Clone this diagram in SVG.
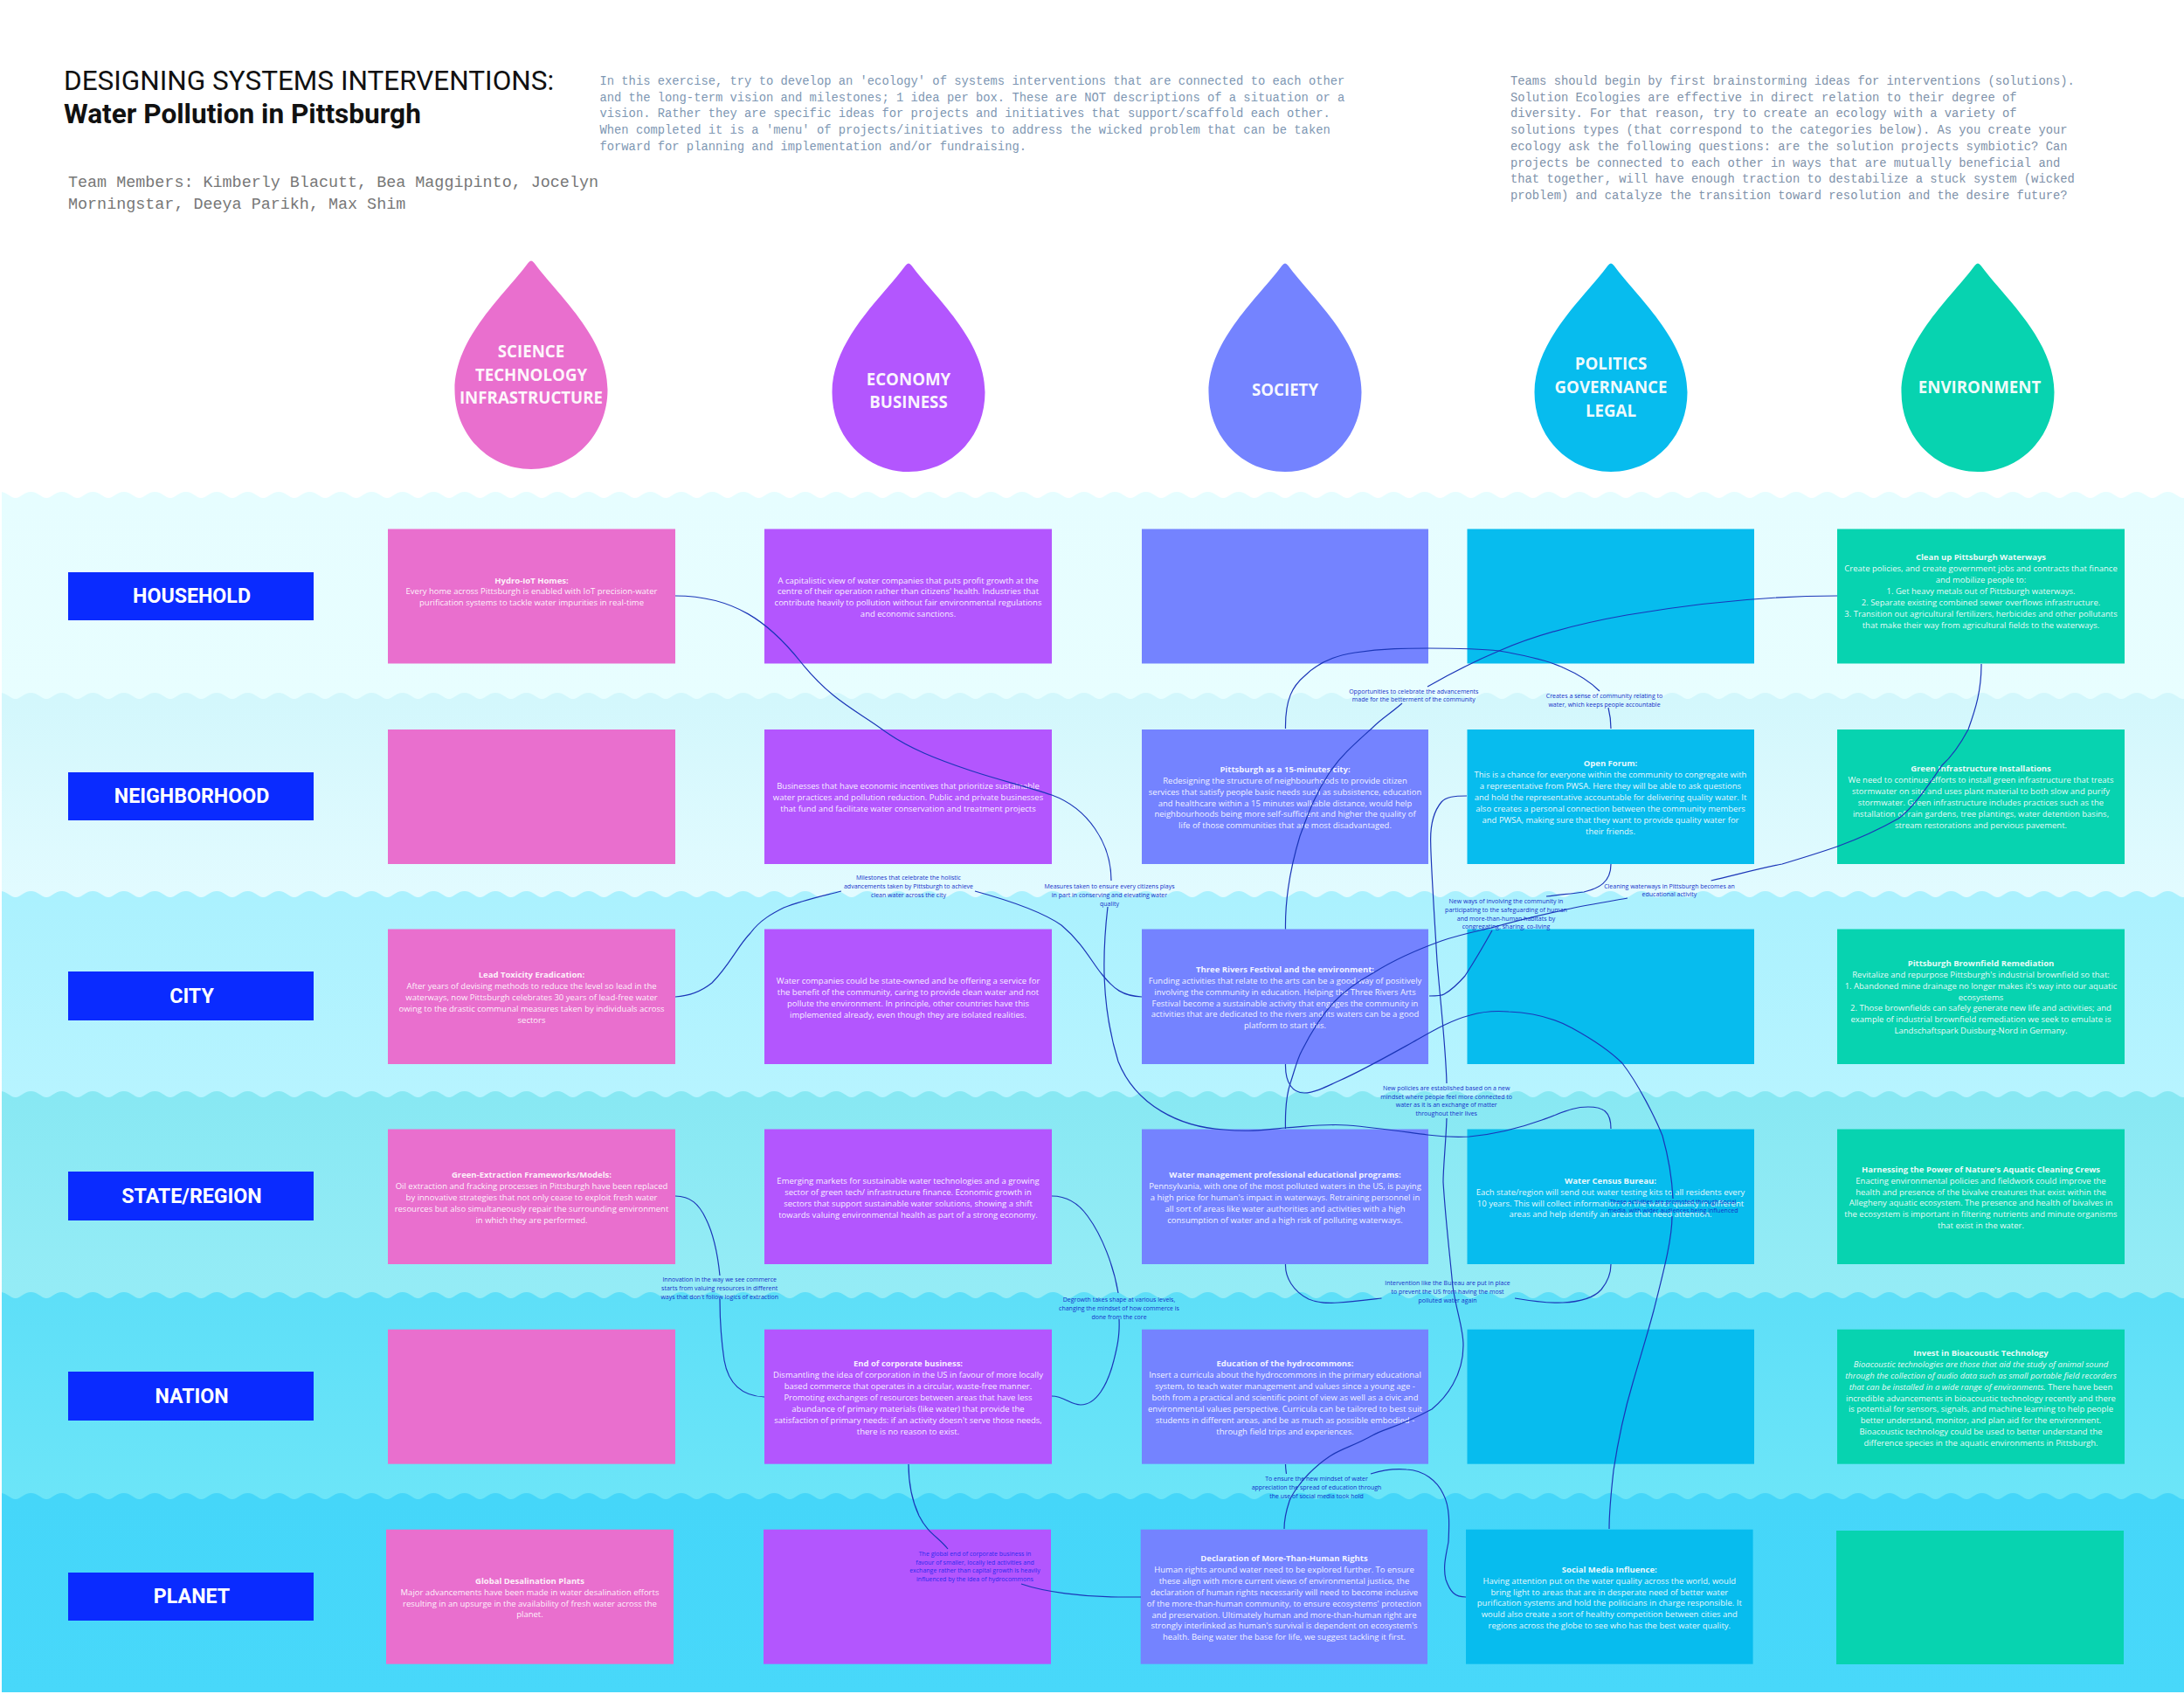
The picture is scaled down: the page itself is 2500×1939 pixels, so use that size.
<svg xmlns="http://www.w3.org/2000/svg" width="2500" height="1939" viewBox="0 0 2500 1939">
<style>
.t{font-family:"Open Sans","Liberation Sans",sans-serif;font-size:9.5px;fill:#fff;fill-opacity:.93;text-anchor:middle}
.b{font-weight:700}
.i{font-style:italic}
.l{font-family:"Open Sans","Liberation Sans",sans-serif;font-size:7px;fill:#1530c9;text-anchor:middle}
.d{font-family:"Open Sans","Liberation Sans",sans-serif;font-size:18.7px;font-weight:700;fill:#fff;fill-opacity:.95;text-anchor:middle}
.r{font-family:Roboto,"Liberation Sans",sans-serif;font-size:23.2px;font-weight:700;fill:#fff;text-anchor:middle}
.m{font-family:"Liberation Mono",monospace;font-size:13.8px}
.c{fill:none;stroke:#1b36b8;stroke-width:1.2}
.rl{fill:#0a2bff}
.p{fill:#e96fce}.u{fill:#b356fe}.s{fill:#7483ff}.g{fill:#07bcee}.e{fill:#07d3b0}
</style>
<defs>
<path id="drop" d="M-3.5 3Q0 -2 3.5 3C29 38 87.5 88 87.5 148C87.5 200 48 239 0 239C-48 239 -87.5 200 -87.5 148C-87.5 88 -29 38 -3.5 3Z"/>
<pattern id="w1" patternUnits="userSpaceOnUse" x="0" y="563" width="35.45" height="8"><path fill="#e6fdff" d="M0 0C8 0 12 7 17.72 7C23.4 7 27.4 0 35.45 0V8H0Z"/></pattern>
<pattern id="w2" patternUnits="userSpaceOnUse" x="0" y="793" width="35.45" height="8"><path fill="#d3f7fc" d="M0 0C8 0 12 7 17.72 7C23.4 7 27.4 0 35.45 0V8H0Z"/></pattern>
<pattern id="w3" patternUnits="userSpaceOnUse" x="0" y="1020" width="35.45" height="8"><path fill="#abf1fe" d="M0 0C8 0 12 7 17.72 7C23.4 7 27.4 0 35.45 0V8H0Z"/></pattern>
<pattern id="w4" patternUnits="userSpaceOnUse" x="0" y="1249" width="35.45" height="8"><path fill="#88e8f3" d="M0 0C8 0 12 7 17.72 7C23.4 7 27.4 0 35.45 0V8H0Z"/></pattern>
<pattern id="w5" patternUnits="userSpaceOnUse" x="0" y="1479" width="35.45" height="8"><path fill="#5edff8" d="M0 0C8 0 12 7 17.72 7C23.4 7 27.4 0 35.45 0V8H0Z"/></pattern>
<pattern id="w6" patternUnits="userSpaceOnUse" x="0" y="1709" width="35.45" height="8"><path fill="#45d6f9" d="M0 0C8 0 12 7 17.72 7C23.4 7 27.4 0 35.45 0V8H0Z"/></pattern>
<linearGradient id="b1" x1="0" y1="0" x2="0" y2="1"><stop offset="0" stop-color="#e6fdff"/><stop offset="1" stop-color="#e8feff"/></linearGradient>
<linearGradient id="b2" x1="0" y1="0" x2="0" y2="1"><stop offset="0" stop-color="#d3f7fc"/><stop offset="1" stop-color="#e2fbff"/></linearGradient>
<linearGradient id="b3" x1="0" y1="0" x2="0" y2="1"><stop offset="0" stop-color="#abf1fe"/><stop offset="1" stop-color="#b7f4ff"/></linearGradient>
<linearGradient id="b4" x1="0" y1="0" x2="0" y2="1"><stop offset="0" stop-color="#88e8f3"/><stop offset="1" stop-color="#95ecf6"/></linearGradient>
<linearGradient id="b5" x1="0" y1="0" x2="0" y2="1"><stop offset="0" stop-color="#5edff8"/><stop offset="1" stop-color="#6ce5f8"/></linearGradient>
<linearGradient id="b6" x1="0" y1="0" x2="0" y2="1"><stop offset="0" stop-color="#45d6f9"/><stop offset="1" stop-color="#48d8fa"/></linearGradient>
</defs>
<rect width="2500" height="1939" fill="#fff"/>
<g id="bands">
<rect x="2" y="563" width="2498" height="8" fill="url(#w1)"/><rect x="2" y="571" width="2498" height="230" fill="url(#b1)"/>
<rect x="2" y="793" width="2498" height="8" fill="url(#w2)"/><rect x="2" y="801" width="2498" height="227" fill="url(#b2)"/>
<rect x="2" y="1020" width="2498" height="8" fill="url(#w3)"/><rect x="2" y="1028" width="2498" height="229" fill="url(#b3)"/>
<rect x="2" y="1249" width="2498" height="8" fill="url(#w4)"/><rect x="2" y="1257" width="2498" height="230" fill="url(#b4)"/>
<rect x="2" y="1479" width="2498" height="8" fill="url(#w5)"/><rect x="2" y="1487" width="2498" height="230" fill="url(#b5)"/>
<rect x="2" y="1709" width="2498" height="8" fill="url(#w6)"/><rect x="2" y="1717" width="2498" height="220" fill="url(#b6)"/>
</g>
<g id="header">
<text x="73" y="102.5" font-family="Roboto,'Liberation Sans',sans-serif" font-size="31.5" fill="#111">DESIGNING SYSTEMS INTERVENTIONS:</text>
<text x="73" y="141" font-family="Roboto,'Liberation Sans',sans-serif" font-size="31.6" font-weight="700" fill="#111">Water Pollution in Pittsburgh</text>
<text font-family="'Liberation Mono',monospace" font-size="18.4" fill="#777"><tspan x="78" y="214">Team Members: Kimberly Blacutt, Bea Maggipinto, Jocelyn</tspan><tspan x="78" y="239">Morningstar, Deeya Parikh, Max Shim</tspan></text>
<text class="m" fill="#7e97b3"><tspan x="686.5" y="97">In this exercise, try to develop an 'ecology' of systems interventions that are connected to each other</tspan><tspan x="686.5" y="115.7">and the long-term vision and milestones; 1 idea per box. These are NOT descriptions of a situation or a</tspan><tspan x="686.5" y="134.4">vision. Rather they are specific ideas for projects and initiatives that support/scaffold each other.</tspan><tspan x="686.5" y="153.1">When completed it is a 'menu' of projects/initiatives to address the wicked problem that can be taken</tspan><tspan x="686.5" y="171.8">forward for planning and implementation and/or fundraising.</tspan></text>
<text class="m" fill="#8092aa"><tspan x="1729" y="97">Teams should begin by first brainstorming ideas for interventions (solutions).</tspan><tspan x="1729" y="115.7">Solution Ecologies are effective in direct relation to their degree of</tspan><tspan x="1729" y="134.4">diversity. For that reason, try to create an ecology with a variety of</tspan><tspan x="1729" y="153.1">solutions types (that correspond to the categories below). As you create your</tspan><tspan x="1729" y="171.8">ecology ask the following questions: are the solution projects symbiotic? Can</tspan><tspan x="1729" y="190.5">projects be connected to each other in ways that are mutually beneficial and</tspan><tspan x="1729" y="209.2">that together, will have enough traction to destabilize a stuck system (wicked</tspan><tspan x="1729" y="227.9">problem) and catalyze the transition toward resolution and the desire future?</tspan></text>
</g>
<g id="drop-science"><use href="#drop" x="608" y="298" class="p"/><text class="d"><tspan x="608" y="409">SCIENCE</tspan><tspan x="608" y="435.6">TECHNOLOGY</tspan><tspan x="608" y="462.2">INFRASTRUCTURE</tspan></text></g>
<g id="drop-economy"><use href="#drop" x="1040" y="301" class="u"/><text class="d"><tspan x="1040" y="441">ECONOMY</tspan><tspan x="1040" y="467.4">BUSINESS</tspan></text></g>
<g id="drop-society"><use href="#drop" x="1471" y="301" class="s"/><text class="d" x="1471" y="453">SOCIETY</text></g>
<g id="drop-politics"><use href="#drop" x="1844" y="301" class="g"/><text class="d"><tspan x="1844" y="423">POLITICS</tspan><tspan x="1844" y="450">GOVERNANCE</tspan><tspan x="1844" y="476.7">LEGAL</tspan></text></g>
<g id="drop-environment"><use href="#drop" x="2264" y="301" class="e"/><text class="d" x="2266" y="450">ENVIRONMENT</text></g>
<g id="row-household"><rect class="rl" x="78" y="655" width="281" height="55"/><text class="r" x="219.5" y="689.5">HOUSEHOLD</text></g>
<g id="row-neighborhood"><rect class="rl" x="78" y="884" width="281" height="55"/><text class="r" x="219.5" y="918.5">NEIGHBORHOOD</text></g>
<g id="row-city"><rect class="rl" x="78" y="1112" width="281" height="56"/><text class="r" x="219.5" y="1147.5">CITY</text></g>
<g id="row-state"><rect class="rl" x="78" y="1341" width="281" height="56"/><text class="r" x="219.5" y="1376.5">STATE/REGION</text></g>
<g id="row-nation"><rect class="rl" x="78" y="1570" width="281" height="56"/><text class="r" x="219.5" y="1605.5">NATION</text></g>
<g id="row-planet"><rect class="rl" x="78" y="1800" width="281" height="55"/><text class="r" x="219.5" y="1834.5">PLANET</text></g>

<g id="n-hydro"><rect class="p" x="444" y="605.5" width="329" height="154"/><text class="t" y="667.5"><tspan x="608.5" class="b">Hydro-IoT Homes:</tspan><tspan x="608.5" dy="12.9">Every home across Pittsburgh is enabled with IoT precision-water</tspan><tspan x="608.5" dy="12.9">purification systems to tackle water impurities in real-time</tspan></text></g>
<g id="n-capital"><rect class="u" x="875" y="605.5" width="329" height="154"/><text class="t" y="667.5"><tspan x="1039.5">A capitalistic view of water companies that puts profit growth at the</tspan><tspan x="1039.5" dy="12.9">centre of their operation rather than citizens' health. Industries that</tspan><tspan x="1039.5" dy="12.9">contribute heavily to pollution without fair environmental regulations</tspan><tspan x="1039.5" dy="12.9">and economic sanctions.</tspan></text></g>
<g id="n-society1"><rect class="s" x="1307" y="605.5" width="328" height="154"/></g>
<g id="n-politics1"><rect class="g" x="1679.5" y="605.5" width="328.5" height="154"/></g>
<g id="n-cleanup"><rect class="e" x="2103" y="605.5" width="329" height="154"/><text class="t" y="641.3"><tspan x="2267.5" class="b">Clean up Pittsburgh Waterways</tspan><tspan x="2267.5" dy="12.9">Create policies, and create government jobs and contracts that finance</tspan><tspan x="2267.5" dy="12.9">and mobilize people to:</tspan><tspan x="2267.5" dy="12.9">1. Get heavy metals out of Pittsburgh waterways.</tspan><tspan x="2267.5" dy="12.9">2. Separate existing combined sewer overflows infrastructure.</tspan><tspan x="2267.5" dy="12.9">3. Transition out agricultural fertilizers, herbicides and other pollutants</tspan><tspan x="2267.5" dy="12.9">that make their way from agricultural fields to the waterways.</tspan></text></g>

<g id="n-sci2"><rect class="p" x="444" y="835" width="329" height="154"/></g>
<g id="n-business"><rect class="u" x="875" y="835" width="329" height="154"/><text class="t" y="903.4"><tspan x="1039.5">Businesses that have economic incentives that prioritize sustainable</tspan><tspan x="1039.5" dy="12.9">water practices and pollution reduction. Public and private businesses</tspan><tspan x="1039.5" dy="12.9">that fund and facilitate water conservation and treatment projects</tspan></text></g>
<g id="n-15min"><rect class="s" x="1307" y="835" width="328" height="154"/><text class="t" y="883.8"><tspan x="1471" class="b">Pittsburgh as a 15-minutes city:</tspan><tspan x="1471" dy="12.9">Redesigning the structure of neighbourhoods to provide citizen</tspan><tspan x="1471" dy="12.9">services that satisfy people basic needs such as subsistence, education</tspan><tspan x="1471" dy="12.9">and healthcare within a 15 minutes walkable distance, would help</tspan><tspan x="1471" dy="12.9">neighbourhoods being more self-sufficient and higher the quality of</tspan><tspan x="1471" dy="12.9">life of those communities that are most disadvantaged.</tspan></text></g>
<g id="n-forum"><rect class="g" x="1679.5" y="835" width="328.5" height="154"/><text class="t" y="877.3"><tspan x="1843.5" class="b">Open Forum:</tspan><tspan x="1843.5" dy="12.9">This is a chance for everyone within the community to congregate with</tspan><tspan x="1843.5" dy="12.9">a representative from PWSA. Here they will be able to ask questions</tspan><tspan x="1843.5" dy="12.9">and hold the representative accountable for delivering quality water. It</tspan><tspan x="1843.5" dy="12.9">also creates a personal connection between the community members</tspan><tspan x="1843.5" dy="12.9">and PWSA, making sure that they want to provide quality water for</tspan><tspan x="1843.5" dy="12.9">their friends.</tspan></text></g>
<g id="n-greeninfra"><rect class="e" x="2103" y="835" width="329" height="154"/><text class="t" y="883.4"><tspan x="2267.5" class="b">Green Infrastructure Installations</tspan><tspan x="2267.5" dy="12.9">We need to continue efforts to install green infrastructure that treats</tspan><tspan x="2267.5" dy="12.9">stormwater on site and uses plant material to both slow and purify</tspan><tspan x="2267.5" dy="12.9">stormwater.  Green infrastructure includes practices such as the</tspan><tspan x="2267.5" dy="12.9">installation of rain gardens, tree plantings, water detention basins,</tspan><tspan x="2267.5" dy="12.9">stream restorations and pervious pavement.</tspan></text></g>

<g id="n-lead"><rect class="p" x="444" y="1063.5" width="329" height="154.5"/><text class="t" y="1119.3"><tspan x="608.5" class="b">Lead Toxicity Eradication:</tspan><tspan x="608.5" dy="12.9">After years of devising methods to reduce the level so lead in the</tspan><tspan x="608.5" dy="12.9">waterways, now Pittsburgh celebrates 30 years of lead-free water</tspan><tspan x="608.5" dy="12.9">owing to the drastic communal measures taken by individuals across</tspan><tspan x="608.5" dy="12.9">sectors</tspan></text></g>
<g id="n-companies"><rect class="u" x="875" y="1063.5" width="329" height="154.5"/><text class="t" y="1125.8"><tspan x="1039.5">Water companies could be state-owned and be offering a service for</tspan><tspan x="1039.5" dy="12.9">the benefit of the community, caring to provide clean water and not</tspan><tspan x="1039.5" dy="12.9">pollute the environment. In principle, other countries have this</tspan><tspan x="1039.5" dy="12.9">implemented already, even though they are isolated realities.</tspan></text></g>
<g id="n-festival"><rect class="s" x="1307" y="1063.5" width="328" height="154.5"/><text class="t" y="1112.8"><tspan x="1471" class="b">Three Rivers Festival and the environment:</tspan><tspan x="1471" dy="12.9">Funding activities that relate to the arts can be a good way of positively</tspan><tspan x="1471" dy="12.9">involving the community in education. Helping the Three Rivers Arts</tspan><tspan x="1471" dy="12.9">Festival become a sustainable activity that engages the community in</tspan><tspan x="1471" dy="12.9">activities that are dedicated to the rivers and its waters can be a good</tspan><tspan x="1471" dy="12.9">platform to start this.</tspan></text></g>
<g id="n-politics3"><rect class="g" x="1679.5" y="1063.5" width="328.5" height="154.5"/></g>
<g id="n-brownfield"><rect class="e" x="2103" y="1063.5" width="329" height="154.5"/><text class="t" y="1105.8"><tspan x="2267.5" class="b">Pittsburgh Brownfield Remediation</tspan><tspan x="2267.5" dy="12.9">Revitalize and repurpose Pittsburgh's industrial brownfield so that:</tspan><tspan x="2267.5" dy="12.9">1. Abandoned mine drainage no longer makes it's way into our aquatic</tspan><tspan x="2267.5" dy="12.9">ecosystems</tspan><tspan x="2267.5" dy="12.9">2. Those brownfields can safely generate new life and activities; and</tspan><tspan x="2267.5" dy="12.9">example of industrial brownfield remediation we seek to emulate is</tspan><tspan x="2267.5" dy="12.9">Landschaftspark Duisburg-Nord in Germany.</tspan></text></g>

<g id="n-extraction"><rect class="p" x="444" y="1292.5" width="329" height="154.5"/><text class="t" y="1348.3"><tspan x="608.5" class="b">Green-Extraction Frameworks/Models:</tspan><tspan x="608.5" dy="12.9">Oil extraction and fracking processes in Pittsburgh have been replaced</tspan><tspan x="608.5" dy="12.9">by innovative strategies that not only cease to exploit fresh water</tspan><tspan x="608.5" dy="12.9">resources but also simultaneously repair the surrounding environment</tspan><tspan x="608.5" dy="12.9">in which they are performed.</tspan></text></g>
<g id="n-emerging"><rect class="u" x="875" y="1292.5" width="329" height="154.5"/><text class="t" y="1355"><tspan x="1039.5">Emerging markets for sustainable water technologies and a growing</tspan><tspan x="1039.5" dy="12.9">sector of green tech/ infrastructure finance. Economic growth in</tspan><tspan x="1039.5" dy="12.9">sectors that support sustainable water solutions, showing a shift</tspan><tspan x="1039.5" dy="12.9">towards valuing environmental health as part of a strong economy.</tspan></text></g>
<g id="n-professional"><rect class="s" x="1307" y="1292.5" width="328" height="154.5"/><text class="t" y="1348.3"><tspan x="1471" class="b">Water management professional educational programs:</tspan><tspan x="1471" dy="12.9">Pennsylvania, with one of the most polluted waters in the US, is paying</tspan><tspan x="1471" dy="12.9">a high price for human's impact in waterways. Retraining personnel in</tspan><tspan x="1471" dy="12.9">all sort of areas like water authorities and activities with a high</tspan><tspan x="1471" dy="12.9">consumption of water and a high risk of polluting waterways.</tspan></text></g>
<g id="n-census"><rect class="g" x="1679.5" y="1292.5" width="328.5" height="154.5"/><text class="t" y="1354.7"><tspan x="1843.5" class="b">Water Census Bureau:</tspan><tspan x="1843.5" dy="12.9">Each state/region will send out water testing kits to all residents every</tspan><tspan x="1843.5" dy="12.9">10 years. This will collect information on the water quality in different</tspan><tspan x="1843.5" dy="12.9">areas and help identify an areas that need attention.</tspan></text></g>
<g id="n-bivalve"><rect class="e" x="2103" y="1292.5" width="329" height="154.5"/><text class="t" y="1341.7"><tspan x="2267.5" class="b">Harnessing the Power of Nature's Aquatic Cleaning Crews</tspan><tspan x="2267.5" dy="12.9">Enacting environmental policies and fieldwork could improve the</tspan><tspan x="2267.5" dy="12.9">health and presence of the bivalve creatures that exist within the</tspan><tspan x="2267.5" dy="12.9">Allegheny aquatic ecosystem. The presence and health of bivalves in</tspan><tspan x="2267.5" dy="12.9">the ecosystem is important in filtering nutrients and minute organisms</tspan><tspan x="2267.5" dy="12.9">that exist in the water.</tspan></text></g>

<g id="n-sci5"><rect class="p" x="444" y="1521.7" width="329" height="154"/></g>
<g id="n-endcorp"><rect class="u" x="875" y="1521.7" width="329" height="154"/><text class="t" y="1564.3"><tspan x="1039.5" class="b">End of corporate business:</tspan><tspan x="1039.5" dy="12.9">Dismantling the idea of corporation in the US in favour of more locally</tspan><tspan x="1039.5" dy="12.9">based commerce that operates in a circular, waste-free manner.</tspan><tspan x="1039.5" dy="12.9">Promoting exchanges of resources between areas that have less</tspan><tspan x="1039.5" dy="12.9">abundance of primary materials (like water) that provide the</tspan><tspan x="1039.5" dy="12.9">satisfaction of primary needs: if an activity doesn't serve those needs,</tspan><tspan x="1039.5" dy="12.9">there is no reason to exist.</tspan></text></g>
<g id="n-education"><rect class="s" x="1307" y="1521.7" width="328" height="154"/><text class="t" y="1564.3"><tspan x="1471" class="b">Education of the hydrocommons:</tspan><tspan x="1471" dy="12.9">Insert a curricula about the hydrocommons in the primary educational</tspan><tspan x="1471" dy="12.9">system, to teach water management and values since a young age -</tspan><tspan x="1471" dy="12.9">both from a practical and scientific point of view as well as a civic and</tspan><tspan x="1471" dy="12.9">environmental values perspective. Curricula can be tailored to best suit</tspan><tspan x="1471" dy="12.9">students in different areas, and be as much as possible embodied -</tspan><tspan x="1471" dy="12.9">through field trips and experiences.</tspan></text></g>
<g id="n-politics5"><rect class="g" x="1679.5" y="1521.7" width="328.5" height="154"/></g>
<g id="n-bioacoustic"><rect class="e" x="2103" y="1521.7" width="329" height="154"/><text class="t" y="1551.9"><tspan x="2267.5" class="b">Invest in Bioacoustic Technology</tspan><tspan x="2267.5" dy="12.9" class="i">Bioacoustic technologies are those that aid the study of animal sound</tspan><tspan x="2267.5" dy="12.9" class="i">through the collection of audio data such as small portable field recorders</tspan><tspan x="2267.5" dy="12.9"><tspan class="i">that can be installed in a wide range of environments.</tspan> There have been</tspan><tspan x="2267.5" dy="12.9">incredible advancements in bioacoustic technology recently and there</tspan><tspan x="2267.5" dy="12.9">is potential for sensors, signals, and machine learning to help people</tspan><tspan x="2267.5" dy="12.9">better understand, monitor, and plan aid for the environment.</tspan><tspan x="2267.5" dy="12.9">Bioacoustic technology could be used to better understand the</tspan><tspan x="2267.5" dy="12.9">difference species in the aquatic environments in Pittsburgh.</tspan></text></g>

<g id="n-desal"><rect class="p" x="442" y="1750.7" width="329" height="154"/><text class="t" y="1812.7"><tspan x="606.5" class="b">Global Desalination Plants</tspan><tspan x="606.5" dy="12.9">Major advancements have been made in water desalination efforts</tspan><tspan x="606.5" dy="12.9">resulting in an upsurge in the availability of fresh water across the</tspan><tspan x="606.5" dy="12.9">planet.</tspan></text></g>
<g id="n-econ6"><rect class="u" x="874" y="1750.7" width="329" height="154"/></g>
<g id="n-rights"><rect class="s" x="1305.7" y="1750.7" width="328.3" height="154"/><text class="t" y="1787"><tspan x="1470" class="b">Declaration of More-Than-Human Rights</tspan><tspan x="1470" dy="12.9">Human rights around water need to be explored further. To ensure</tspan><tspan x="1470" dy="12.9">these align with more current views of environmental justice, the</tspan><tspan x="1470" dy="12.9">declaration of human rights necessarily will need to become inclusive</tspan><tspan x="1470" dy="12.9">of the more-than-human community, to ensure ecosystems' protection</tspan><tspan x="1470" dy="12.9">and preservation. Ultimately human and more-than-human right are</tspan><tspan x="1470" dy="12.9">strongly interlinked as human's survival is dependent on ecosystem's</tspan><tspan x="1470" dy="12.9">health. Being water the base for life, we suggest tackling it first.</tspan></text></g>
<g id="n-social"><rect class="g" x="1678" y="1750.7" width="328.6" height="154"/><text class="t" y="1799.7"><tspan x="1842.3" class="b">Social Media Influence:</tspan><tspan x="1842.3" dy="12.9">Having attention put on the water quality across the world, would</tspan><tspan x="1842.3" dy="12.9">bring light to areas that are in desperate need of better water</tspan><tspan x="1842.3" dy="12.9">purification systems and hold the politicians in charge responsible. It</tspan><tspan x="1842.3" dy="12.9">would also create a sort of healthy competition between cities and</tspan><tspan x="1842.3" dy="12.9">regions across the globe to see who has the best water quality.</tspan></text></g>
<g id="n-env6"><rect class="e" x="2102" y="1752" width="329" height="153"/></g>

<g id="connectors">
<path class="c" d="M773 682C840 682 880 712 916 757C952 802 980 813 1010 835C1040 857 1075 870 1111 882C1147 894 1175 900 1204 910C1245 925 1272 965 1272 1008"/>
<path class="c" d="M1268 1038C1262 1090 1260 1150 1280 1215C1300 1265 1350 1290 1401 1293C1430 1296 1450 1293 1471 1291C1500 1289 1520 1286 1542 1288C1580 1291 1610 1296 1634 1299C1650 1301 1665 1302 1682 1301C1715 1298 1740 1291 1765 1282C1790 1273 1800 1267 1818 1267C1835 1267 1844 1272 1844 1292"/>
<path class="c" d="M1116 1020C1160 1032 1195 1045 1215 1059C1240 1080 1250 1102 1262 1116C1275 1132 1285 1140 1307 1141"/>
<path class="c" d="M773 1141C790 1140 805 1133 815 1125C835 1105 845 1082 859 1068C870 1053 885 1045 897 1039C920 1030 940 1026 963 1020"/>
<path class="c" d="M2103 682C2060 682 1980 684 1862 704C1800 715 1750 730 1716 745C1685 758 1655 774 1634 786"/>
<path class="c" d="M1605 805C1590 818 1582 822 1571 833C1550 852 1535 865 1522 884C1505 910 1498 930 1488 957C1478 990 1471 1030 1471.5 1063.5"/>
<path class="c" d="M1471.5 834C1471 800 1480 785 1493 774C1510 757 1530 750 1551 747C1585 742 1610 742 1634 742C1665 742 1690 742 1716 745C1745 750 1770 755 1789 764C1805 771 1820 780 1831 791"/>
<path class="c" d="M1841 810C1843 818 1844 825 1844 834"/>
<path class="c" d="M1679 911C1665 911 1655 912 1650 918C1640 930 1637 945 1637.7 965C1638 990 1642 1050 1645 1100C1650 1160 1655 1200 1656 1240"/>
<path class="c" d="M1656 1280C1655 1310 1652 1335 1652 1353C1655 1400 1660 1440 1663 1473C1668 1505 1675 1520 1675 1540C1675 1575 1655 1600 1639 1613C1600 1634 1585 1635 1571 1643C1550 1655 1535 1658 1522 1667C1510 1675 1505 1680 1498 1687C1488 1697 1478 1712 1476 1718C1472 1730 1470 1740 1470 1750"/>
<path class="c" d="M1471.5 1218C1471 1240 1480 1251 1493 1251C1505 1251 1520 1243 1533 1237C1560 1225 1590 1208 1617 1193C1640 1180 1660 1168 1683 1162C1700 1157 1715 1157 1727 1158C1755 1159 1780 1166 1800 1177C1820 1188 1840 1200 1857 1217C1875 1240 1895 1280 1903 1300C1910 1325 1914 1350 1915 1372"/>
<path class="c" d="M1914 1392C1914 1420 1903 1460 1893 1500C1885 1530 1877 1555 1869 1583C1858 1620 1852 1650 1847 1683C1844 1710 1842 1730 1842 1750"/>
<path class="c" d="M1471.5 1292C1471 1270 1472 1255 1477 1240C1482 1225 1485 1212 1490 1203C1500 1183 1512 1163 1527 1147C1540 1133 1555 1123 1573 1113C1600 1096 1625 1086 1650 1077C1670 1070 1690 1066 1707 1062C1735 1054 1765 1047 1793 1041C1815 1036 1840 1032 1863 1028"/>
<path class="c" d="M2268 760C2268 790 2262 810 2253 835C2245 850 2235 865 2223 876C2208 898 2190 925 2173 937C2150 950 2125 961 2103 969C2080 977 2060 983 2040 989C2010 995 1985 1002 1958.6 1008"/>
<path class="c" d="M1636 1140C1645 1140 1650 1140 1653 1138C1662 1133 1670 1125 1677 1117C1688 1100 1698 1083 1708 1065"/>
<path class="c" d="M1770 1026C1785 1024 1800 1023 1813 1021C1830 1017 1844 1010 1844 989"/>
<path class="c" d="M1471.5 1447C1471 1462 1480 1478 1498 1487C1510 1492 1520 1492 1532 1491C1550 1490 1565 1488 1581.5 1486"/>
<path class="c" d="M1734 1486C1752 1489 1770 1492 1789 1491C1810 1490 1825 1485 1833 1476C1842 1465 1844 1455 1844 1447"/>
<path class="c" d="M773 1369C790 1369 800 1378 808 1395C818 1415 822 1440 824 1460"/>
<path class="c" d="M824 1487C824 1510 825 1530 829 1557C834 1585 850 1598 875 1599"/>
<path class="c" d="M1204 1369C1222 1369 1235 1378 1245 1392C1262 1415 1275 1450 1280 1480"/>
<path class="c" d="M1281 1510C1282 1530 1278 1545 1275 1557C1268 1585 1255 1608 1237 1608C1225 1608 1218 1598 1204 1598"/>
<path class="c" d="M1040 1676C1040 1700 1045 1720 1052 1735C1062 1755 1075 1760 1085 1773"/>
<path class="c" d="M1169 1813C1195 1822 1240 1828 1280 1828L1306 1828"/>
<path class="c" d="M1471.5 1676C1471.5 1680 1472 1683 1472.5 1687"/>
<path class="c" d="M1569 1687C1585 1682 1600 1681 1610 1682C1630 1683 1645 1695 1652 1710C1660 1725 1659 1745 1658 1765C1654 1785 1652 1795 1655 1808C1660 1822 1665 1828 1678 1828"/>
<text class="l"><tspan x="1040" y="1007">Milestones that celebrate the holistic</tspan><tspan x="1040" dy="9.8">advancements taken by Pittsburgh to achieve</tspan><tspan x="1040" dy="9.8">clean water across the city</tspan></text>
<text class="l"><tspan x="1270" y="1017">Measures taken to ensure every citizens plays</tspan><tspan x="1270" dy="9.8">in part in conserving and elevating water</tspan><tspan x="1270" dy="9.8">quality</tspan></text>
<text class="l"><tspan x="1618.3" y="793.5">Opportunities to celebrate the advancements</tspan><tspan x="1618.3" dy="9.8">made for the betterment of the community</tspan></text>
<text class="l"><tspan x="1836.5" y="798.7">Creates a sense of community relating to</tspan><tspan x="1836.5" dy="9.8">water, which keeps people accountable</tspan></text>
<text class="l"><tspan x="1724" y="1034">New ways of involving the community in</tspan><tspan x="1724" dy="9.8">participating to the safeguarding of human</tspan><tspan x="1724" dy="9.8">and more-than-human habitats by</tspan><tspan x="1724" dy="9.8">congregating, sharing, co-living</tspan></text>
<text class="l"><tspan x="1911" y="1016.5">Cleaning waterways in Pittsburgh becomes an</tspan><tspan x="1911" dy="9.8">educational activity</tspan></text>
<text class="l"><tspan x="1655.7" y="1247.7">New policies are established based on a new</tspan><tspan x="1655.7" dy="9.8">mindset where people feel more connected to</tspan><tspan x="1655.7" dy="9.8">water as it is an exchange of matter</tspan><tspan x="1655.7" dy="9.8">throughout their lives</tspan></text>
<text class="l"><tspan x="1915" y="1377.7">These activities are promoted through social</tspan><tspan x="1915" dy="9.8">media, with wider audiences being influenced</tspan></text>
<text class="l"><tspan x="1657" y="1471">Intervention like the Bureau are put in place</tspan><tspan x="1657" dy="9.8">to  prevent the US from having the most</tspan><tspan x="1657" dy="9.8">polluted water again</tspan></text>
<text class="l"><tspan x="823.7" y="1467">Innovation in the way we see commerce</tspan><tspan x="823.7" dy="9.8">starts from valuing resources in different</tspan><tspan x="823.7" dy="9.8">ways that don't follow logics of extraction</tspan></text>
<text class="l"><tspan x="1281" y="1490.4">Degrowth takes shape at various levels,</tspan><tspan x="1281" dy="9.8">changing the mindset of how commerce is</tspan><tspan x="1281" dy="9.8">done from the core</tspan></text>
<text class="l" style="fill:#2b2bf0"><tspan x="1116" y="1780.7">The global end of corporate business in</tspan><tspan x="1116" dy="9.8">favour of smaller, locally led activities and</tspan><tspan x="1116" dy="9.8">exchange rather than capital growth is heavily</tspan><tspan x="1116" dy="9.8">influenced by the idea of hydrocommons</tspan></text>
<text class="l"><tspan x="1507" y="1695">To ensure the new mindset of water</tspan><tspan x="1507" dy="9.8">appreciation the spread of education through</tspan><tspan x="1507" dy="9.8">the use of social media took hold</tspan></text>
</g>
</svg>
